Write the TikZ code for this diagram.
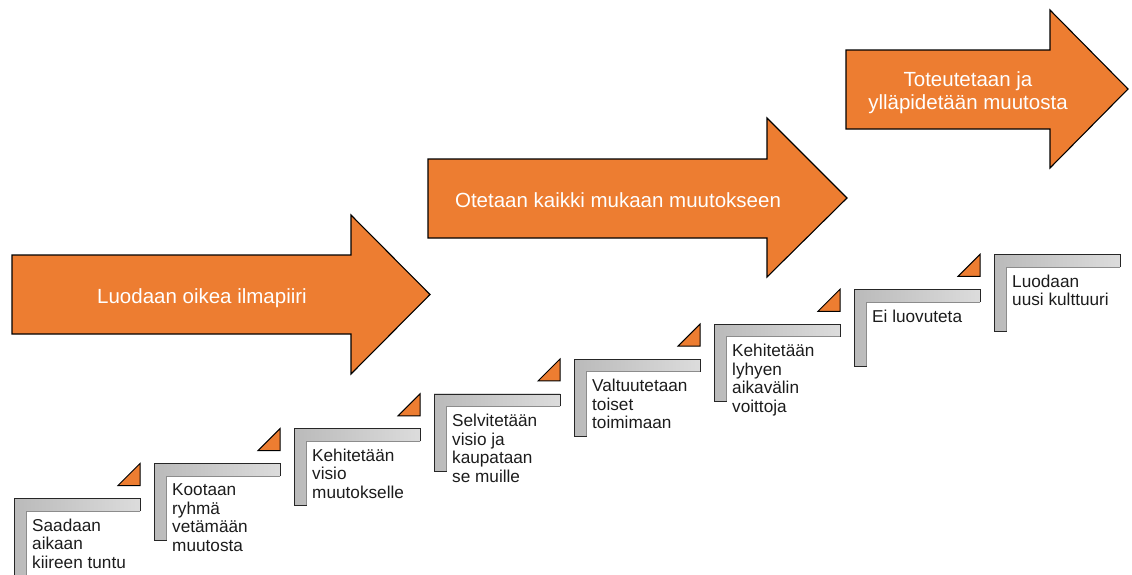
\documentclass[tikz,border=0pt]{standalone}
\usepackage{fontspec}
\setmainfont{Liberation Sans}
\definecolor{phaseorange}{HTML}{ED7D31}
\definecolor{bardark}{HTML}{BABABA}
\definecolor{barlight}{HTML}{DCDCDC}
\definecolor{baredge}{HTML}{8C8C8C}
\definecolor{steptextcol}{HTML}{1C1C1C}
\begin{document}
\begin{tikzpicture}[x=1pt,y=-1pt,
  phase/.style={fill=phaseorange,draw=black,line width=1.1pt,line join=miter},
  phasetext/.style={text=white,font=\fontsize{20.5}{23.5}\selectfont,inner sep=0pt},
  stepbar/.style={left color=bardark,right color=barlight,draw=none},
  stepouter/.style={draw=black!85,line width=0.9pt,line join=miter},
  stepinner/.style={draw=baredge,line width=0.6pt},
  steptext/.style={text=steptextcol,font=\fontsize{17.2}{18.5}\selectfont,
                   align=left,inner sep=0pt,anchor=north west},
  marker/.style={fill=phaseorange,draw=black,line width=1pt,line join=miter}
]
\useasboundingbox (0,0) rectangle (1132,574);

% the three phase arrows
\draw[phase] (12,255) -- (351,255) -- (351,215) -- (430,294.5) -- (351,374)
             -- (351,334) -- (12,334) -- cycle;
\node[phasetext,anchor=base] (phase1) at (202,303) {Luodaan oikea ilmapiiri};

\draw[phase] (428,159) -- (767,159) -- (767,118) -- (847,198) -- (767,277)
             -- (767,238) -- (428,238) -- cycle;
\node[phasetext,anchor=base] (phase2) at (618,207) {Otetaan kaikki mukaan muutokseen};

\draw[phase] (846,50) -- (1050,50) -- (1050,10) -- (1128,89) -- (1050,168)
             -- (1050,129) -- (846,129) -- cycle;
\node[phasetext,anchor=north,align=center] (phase3) at (968,71)
  {Toteutetaan ja\\ylläpidetään muutosta};

% the eight steps: L-shaped bars with their labels
\foreach \i/\txt in {
  1/{Saadaan\\aikaan\\kiireen tuntu},
  2/{Kootaan\\ryhmä\\vetämään\\muutosta},
  3/{Kehitetään\\visio\\muutokselle},
  4/{Selvitetään\\visio ja\\kaupataan\\se muille},
  5/{Valtuutetaan\\toiset\\toimimaan},
  6/{Kehitetään\\lyhyen\\aikavälin\\voittoja},
  7/{Ei luovuteta},
  8/{Luodaan\\uusi kulttuuri}} {
  \pgfmathsetmacro\L{14+140*(\i-1)}
  \pgfmathsetmacro\T{498.5-34.85*(\i-1)}
  \fill[stepbar] (\L,\T+77) -- (\L,\T) -- (\L+126,\T) -- (\L+126,\T+12.5)
        -- (\L+12.5,\T+12.5) -- (\L+12.5,\T+77) -- cycle;
  \draw[stepinner] (\L+126,\T+12.5) -- (\L+12.5,\T+12.5) -- (\L+12.5,\T+77);
  \draw[stepouter] (\L+12.5,\T+77) -- (\L,\T+77) -- (\L,\T) -- (\L+126,\T)
        -- (\L+126,\T+12.5);
  \node[steptext] (step\i) at (\L+18,\T+20) {\txt};
}

% small triangles leading up to the next step
\foreach \i in {1,...,7} {
  \pgfmathsetmacro\R{140*\i}
  \pgfmathsetmacro\B{498.5-34.85*(\i-1)-13}
  \draw[marker] (\R,\B) -- (\R,\B-22) -- (\R-22,\B) -- cycle;
}
\end{tikzpicture}
\end{document}
